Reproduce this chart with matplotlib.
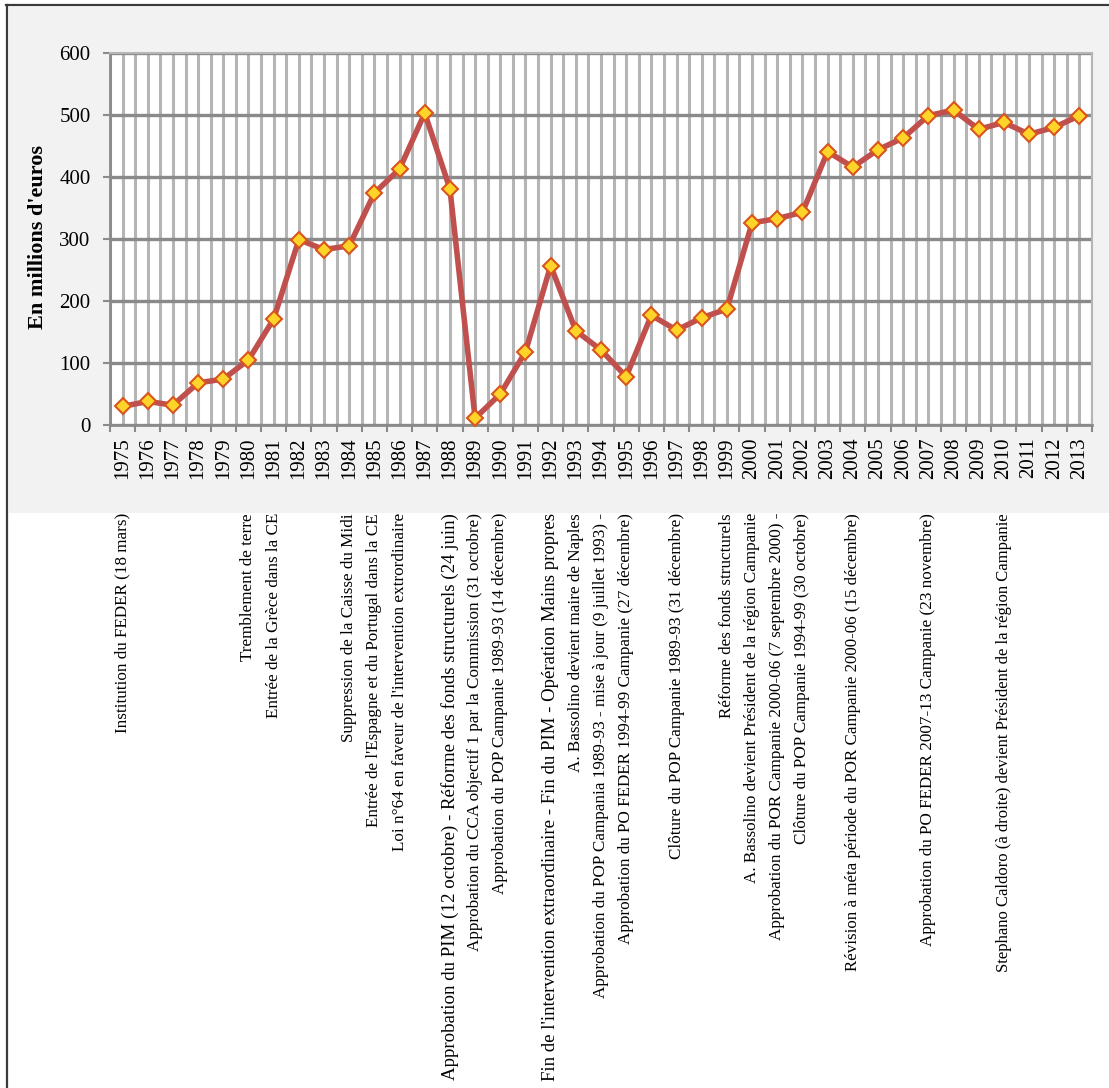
import matplotlib
matplotlib.use("Agg")
import matplotlib.pyplot as plt
import matplotlib.transforms as mtransforms
from matplotlib.patches import Rectangle
from matplotlib.lines import Line2D
from matplotlib.ticker import FixedLocator, NullFormatter, FixedFormatter

years = list(range(1975, 2014))
values = [30, 38, 32, 68, 74, 105, 171, 299, 283, 289, 374, 413, 503, 381,
          11, 50, 118, 257, 152, 121, 78, 177, 153, 173, 187, 326, 333, 343,
          441, 416, 444, 463, 499, 508, 477, 488, 469, 480, 499]

event_years = [1975, 1980, 1981, 1984, 1985, 1986, 1988, 1989, 1990, 1992,
               1993, 1994, 1995, 1997, 1999, 2000, 2001, 2002, 2004, 2007, 2010]
event_labels = [
    "Institution du FEDER (18 mars)",
    "Tremblement de terre",
    "Entrée de la Grèce dans la CE",
    "Suppression de la Caisse du Midi",
    "Entrée de l'Espagne et du Portugal dans la CE",
    "Loi n°64 en faveur de l'intervention extrordinaire",
    "Approbation du PIM (12 octobre) - Réforme des fonds structurels (24 juin)",
    "Approbation du CCA objectif 1 par la Commission (31 octobre)",
    "Approbation du POP Campanie 1989-93 (14 décembre)",
    "Fin de l'intervention extraordinaire - Fin du PIM - Opération Mains propres",
    "A. Bassolino devient maire de Naples",
    "Approbation du POP Campania 1989-93 - mise à jour (9 juillet 1993) -",
    "Approbation du PO FEDER 1994-99 Campanie (27 décembre)",
    "Clôture du POP Campanie 1989-93 (31 décembre)",
    "Réforme des fonds structurels",
    "A. Bassolino devient Président de la région Campanie",
    "Approbation du POR Campanie 2000-06 (7 septembre 2000) -",
    "Clôture du POP Campanie 1994-99 (30 octobre)",
    "Révision à méta période du POR Campanie 2000-06 (15 décembre)",
    "Approbation du PO FEDER 2007-13 Campanie (23 novembre)",
    "Stephano Caldoro (à droite) devient Président de la région Campanie",
]

y_ticks = [0, 100, 200, 300, 400, 500, 600]
y_label = "En millions d'euros"

SERIF = ["Liberation Serif", "DejaVu Serif"]
W, H = 1109, 1088
fig = plt.figure(figsize=(W / 100, H / 100), dpi=100)
fig.patch.set_facecolor("white")

# grey chart background
fig.patches.append(Rectangle((9 / W, 1 - 513 / H), 1 - 9 / W, (513 - 7) / H,
                             transform=fig.transFigure, facecolor="#f2f2f2",
                             edgecolor="none", zorder=-2))
# outer frame lines (top and left)
fig.lines.append(Line2D([6 / W, 1], [1 - 5 / H, 1 - 5 / H], transform=fig.transFigure,
                        color="#3a3a3a", lw=1.6, zorder=-1))
fig.lines.append(Line2D([7 / W, 7 / W], [0, 1 - 5 / H], transform=fig.transFigure,
                        color="#3a3a3a", lw=1.6, zorder=-1))

left, right, top, bottom = 110, 1092, 53, 425
ax = fig.add_axes([left / W, 1 - bottom / H, (right - left) / W, (bottom - top) / H])
ax.set_zorder(1)
ax.set_facecolor("white")

n = len(years)
xs = list(range(n))
ax.set_xlim(-0.5, n - 0.5)
ax.set_ylim(0, 600)

# vertical grid: boundaries (major) + centers (minor)
ax.xaxis.set_major_locator(FixedLocator([i - 0.5 for i in range(n + 1)]))
ax.xaxis.set_major_formatter(NullFormatter())
ax.xaxis.set_minor_locator(FixedLocator(xs))
ax.xaxis.set_minor_formatter(FixedFormatter([str(y) for y in years]))
ax.set_yticks(y_ticks)
ax.set_yticklabels([str(v) for v in y_ticks], fontfamily=SERIF, fontsize=15)

ax.grid(True, which="major", axis="x", color="#b5b5b5", lw=2.2, zorder=1)
ax.grid(True, which="minor", axis="x", color="#b5b5b5", lw=2.2, zorder=1)
ax.grid(True, which="major", axis="y", color="#8a8a8a", lw=2.4, zorder=2)
ax.set_axisbelow(True)

ax.tick_params(axis="x", which="major", length=5, width=1.5, color="#8a8a8a", direction="out")
ax.tick_params(axis="x", which="minor", length=0, pad=9, labelsize=15, labelrotation=90)
ax.tick_params(axis="y", which="major", length=5, width=1.5, color="#8a8a8a", pad=9)
for lab in ax.xaxis.get_minorticklabels():
    lab.set_fontfamily(SERIF)

for s in ["left", "bottom"]:
    ax.spines[s].set_color("#8a8a8a")
    ax.spines[s].set_linewidth(2.0)
for s in ["top", "right"]:
    ax.spines[s].set_color("#b5b5b5")
    ax.spines[s].set_linewidth(1.5)

ax.plot(xs, values, color="#c0504d", lw=4.0, zorder=4, solid_joinstyle="round",
        marker="D", markersize=8.5, markerfacecolor="#ffd428",
        markeredgecolor="#d9541e", markeredgewidth=1.5, clip_on=False)

fig.text(38 / W, 1 - 237 / H, y_label, rotation=90, ha="center", va="center",
         fontfamily=SERIF, fontsize=16, fontweight="bold")

size_override = {6: 13.6, 9: 13.5, 20: 12.0, 18: 12.2}
trans = mtransforms.blended_transform_factory(ax.transData, fig.transFigure)
for i, (yr, lab) in enumerate(zip(event_years, event_labels)):
    ax.text(years.index(yr), 1 - 513 / H, lab, transform=trans, rotation=90,
            ha="center", va="top", fontfamily=SERIF,
            fontsize=size_override.get(i, 12.3), clip_on=False)

fig.savefig("out.png", dpi=100)
